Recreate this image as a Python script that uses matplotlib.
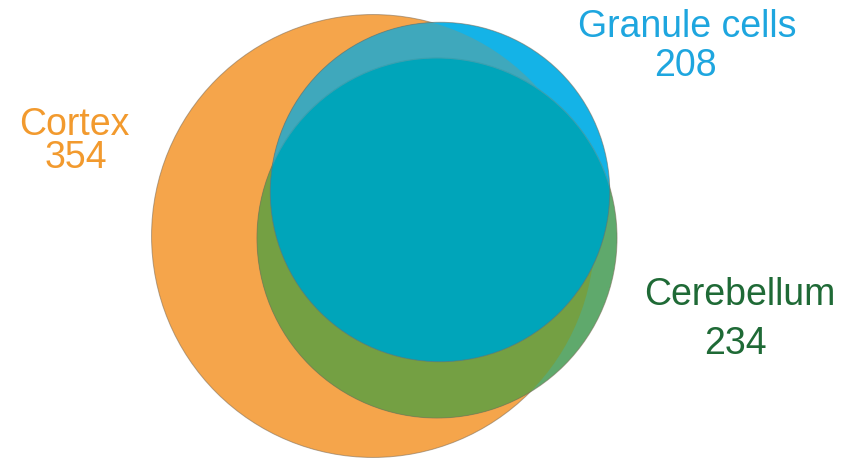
import numpy as np
import matplotlib.pyplot as plt
from matplotlib.patches import Circle

plt.rcParams['font.family'] = ['Liberation Sans', 'DejaVu Sans']

# set sizes (number of genes)
names  = ['Cortex', 'Cerebellum', 'Granule cells']
counts = [354, 234, 208]

# layout (pixel coords, y down)
px_per_sqrt = 11.77
centers = {'Cortex': (373, 236), 'Cerebellum': (437, 238), 'Granule cells': (440, 192)}
radius = {n: px_per_sqrt * np.sqrt(c) for n, c in zip(names, counts)}

# region colours
c_cortex     = '#f5a54b'
c_cb_white   = '#5fa96c'
c_cb_cortex  = '#74a043'
c_gr_white   = '#14b3e7'
c_gr_cortex  = '#3fa8bc'
c_gr_cb      = '#00a5ba'
edge         = '#7a6a55'

fig = plt.figure(figsize=(8.44, 4.58), dpi=100)
ax = fig.add_axes([0, 0, 1, 1])
ax.set_xlim(0, 844)
ax.set_ylim(458, 0)
ax.set_aspect('equal')
ax.axis('off')

def circ(n, **kw):
    return Circle(centers[n], radius[n], **kw)

def outline(n):
    ax.add_patch(circ(n, facecolor='none', edgecolor=edge, lw=0.7, alpha=0.55))

# cortex
cortex = ax.add_patch(circ('Cortex', facecolor=c_cortex, edgecolor='none'))
outline('Cortex')

# cerebellum
ax.add_patch(circ('Cerebellum', facecolor=c_cb_white, edgecolor='none'))
p = ax.add_patch(circ('Cerebellum', facecolor=c_cb_cortex, edgecolor='none'))
p.set_clip_path(cortex)
outline('Cerebellum')

# granule cells
ax.add_patch(circ('Granule cells', facecolor=c_gr_white, edgecolor='none'))
p = ax.add_patch(circ('Granule cells', facecolor=c_gr_cortex, edgecolor='none'))
p.set_clip_path(cortex)
cb = circ('Cerebellum', facecolor='none', edgecolor='none')
ax.add_patch(cb)
p = ax.add_patch(circ('Granule cells', facecolor=c_gr_cb, edgecolor='none'))
p.set_clip_path(cb)
# faint cerebellum rim seen through the blue
p = ax.add_patch(circ('Cerebellum', facecolor='none', edgecolor='#3aa0b0', lw=0.8))
p.set_clip_path(circ('Granule cells', transform=ax.transData))
outline('Granule cells')

fs = 27
ax.text(74, 135, 'Cortex', color='#f29a2e', fontsize=fs, ha='center', va='baseline')
ax.text(76, 168, str(counts[0]), color='#f29a2e', fontsize=fs, ha='center', va='baseline')
ax.text(687, 37, 'Granule cells', color='#1ea6df', fontsize=fs, ha='center', va='baseline')
ax.text(685, 76, str(counts[2]), color='#1ea6df', fontsize=fs, ha='center', va='baseline')
ax.text(740, 305, 'Cerebellum', color='#1f6a36', fontsize=fs, ha='center', va='baseline')
ax.text(735, 354, str(counts[1]), color='#1f6a36', fontsize=fs, ha='center', va='baseline')

fig.savefig('out.png', dpi=100)
